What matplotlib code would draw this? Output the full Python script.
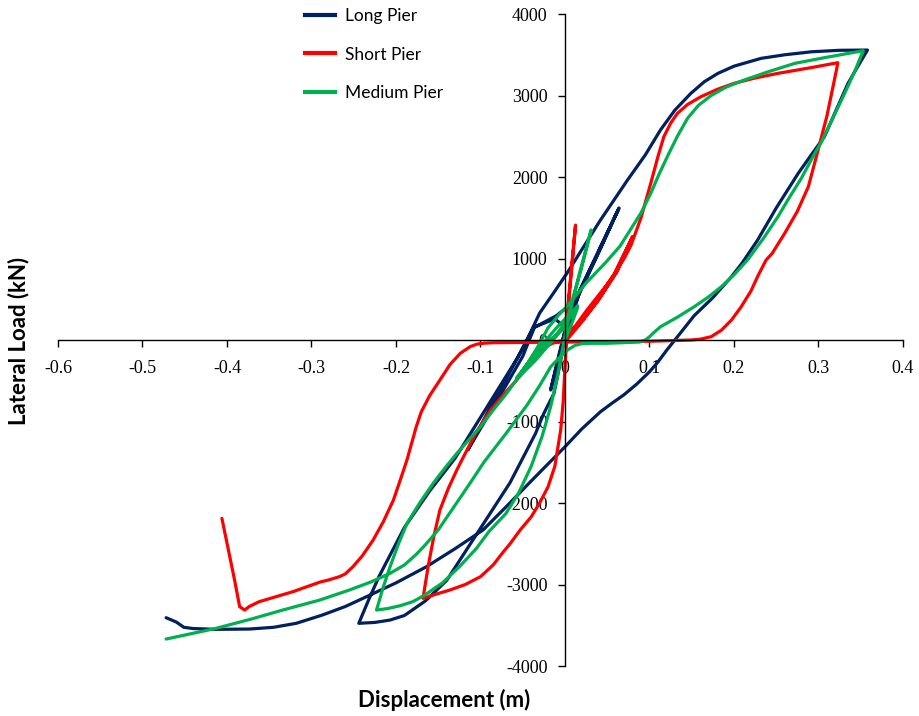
import matplotlib.pyplot as plt
from matplotlib.lines import Line2D

plt.rcParams['axes.unicode_minus'] = False

# Lateral load (kN) vs displacement (m) hysteresis loops
long_x = [0.000, 0.018, 0.042, 0.064, 0.040, 0.016, 0.003, -0.008, -0.017, -0.010,
          0.002, 0.018, 0.042, 0.063, 0.038, 0.012, -0.010, -0.037, -0.045, -0.062,
          -0.087, -0.115, -0.095, -0.070, -0.050, -0.036, -0.012, 0.001, -0.005, -0.013,
          -0.025, -0.035, -0.050, -0.065, -0.090, -0.115, -0.140, -0.165, -0.190, -0.207,
          -0.225, -0.244, -0.232, -0.220, -0.190, -0.160, -0.130, -0.100, -0.070, -0.055,
          -0.045, -0.030, -0.012, 0.003, 0.042, 0.074, 0.095, 0.113, 0.130, 0.149,
          0.165, 0.181, 0.200, 0.232, 0.260, 0.292, 0.325, 0.358, 0.345, 0.335,
          0.320, 0.307, 0.290, 0.276, 0.250, 0.228, 0.210, 0.197, 0.175, 0.153,
          0.130, 0.120, 0.110, 0.100, 0.085, 0.070, 0.055, 0.042, 0.020, 0.000,
          -0.020, -0.040, -0.070, -0.097, -0.130, -0.164, -0.200, -0.235, -0.260, -0.287,
          -0.318, -0.345, -0.373, -0.413, -0.440, -0.451, -0.460, -0.472]
long_y = [0, 613, 1145, 1620, 1090, 580, 245, -250, -613, -300,
          200, 590, 1120, 1600, 1040, 480, 300, 150, 0, -330,
          -800, -1350, -1000, -560, -200, 160, 260, 150, -250, -654,
          -900, -1150, -1450, -1750, -2150, -2550, -2950, -3200, -3380, -3436,
          -3465, -3476, -3180, -2900, -2300, -1850, -1450, -950, -450, -200,
          0, 330, 600, 830, 1472, 1963, 2270, 2577, 2820, 3027,
          3170, 3272, 3360, 3456, 3500, 3537, 3555, 3558, 3330, 3150,
          2800, 2495, 2250, 2045, 1620, 1227, 950, 777, 520, 300,
          0, -130, -270, -390, -540, -670, -780, -880, -1090, -1310,
          -1520, -1730, -2050, -2331, -2560, -2782, -2980, -3150, -3270, -3374,
          -3476, -3525, -3546, -3550, -3540, -3525, -3460, -3407]

short_x = [0.000, 0.006, 0.0125, 0.006, 0.001, 0.015, 0.035, 0.058, 0.080, 0.062,
           0.040, 0.020, 0.000, 0.016, 0.036, 0.059, 0.080, 0.061, 0.039, 0.019,
           0.002, 0.000, -0.002, -0.005, -0.012, -0.020, -0.030, -0.040, -0.053, -0.065,
           -0.073, -0.085, -0.100, -0.118, -0.136, -0.150, -0.168, -0.162, -0.155, -0.148,
           -0.138, -0.128, -0.120, -0.105, -0.088, -0.072, -0.057, -0.043, -0.029, -0.015,
           0.000, 0.026, 0.054, 0.070, 0.078, 0.090, 0.1015, 0.110, 0.117, 0.125,
           0.133, 0.145, 0.161, 0.180, 0.200, 0.225, 0.252, 0.290, 0.323, 0.318,
           0.310, 0.300, 0.288, 0.275, 0.260, 0.245, 0.238, 0.228, 0.220, 0.208,
           0.197, 0.185, 0.173, 0.160, 0.149, 0.100, 0.050, 0.000, -0.050, -0.085,
           -0.095, -0.104, -0.112, -0.124, -0.136, -0.148, -0.160, -0.170, -0.176, -0.187,
           -0.195, -0.203, -0.215, -0.227, -0.240, -0.251, -0.260, -0.267, -0.280, -0.290,
           -0.322, -0.362, -0.374, -0.379, -0.385, -0.391, -0.406]
short_y = [0, 700, 1410, 650, 100, 180, 450, 800, 1268, 850,
           500, 230, 20, 200, 470, 820, 1268, 830, 480, 210,
           0, -330, -740, -1100, -1550, -1800, -2000, -2170, -2331, -2500,
           -2600, -2760, -2904, -3000, -3067, -3110, -3170, -2782, -2400, -2086,
           -1820, -1595, -1431, -1130, -859, -660, -491, -300, -123, -40,
           0, 368, 736, 1000, 1160, 1500, 1923, 2250, 2495, 2660,
           2781, 2890, 2986, 3075, 3149, 3215, 3272, 3340, 3403, 3150,
           2750, 2350, 1881, 1580, 1309, 1060, 982, 780, 600, 400,
           245, 120, 41, 10, 0, -15, -20, -25, -30, -33,
           -38, -50, -80, -164, -300, -491, -680, -880, -1064, -1472,
           -1720, -1963, -2230, -2454, -2650, -2782, -2870, -2904, -2945, -2970,
           -3088, -3211, -3272, -3313, -3272, -2945, -2188]

medium_x = [0.000, 0.008, 0.015, -0.010, -0.035, -0.057, -0.035, -0.010, 0.015, -0.015,
            -0.057, -0.030, 0.000, 0.008, 0.018, 0.031, 0.020, 0.008, 0.000, -0.009,
            -0.017, -0.027, -0.040, -0.055, -0.070, -0.090, -0.105, -0.125, -0.145, -0.166,
            -0.180, -0.195, -0.210, -0.223, -0.215, -0.207, -0.197, -0.187, -0.172, -0.156,
            -0.142, -0.128, -0.100, -0.085, -0.069, -0.057, -0.045, -0.032, -0.020, -0.008,
            0.003, 0.025, 0.048, 0.065, 0.076, 0.090, 0.1015, 0.112, 0.123, 0.133,
            0.145, 0.158, 0.173, 0.190, 0.212, 0.240, 0.272, 0.310, 0.353, 0.343,
            0.331, 0.316, 0.303, 0.295, 0.280, 0.265, 0.252, 0.235, 0.216, 0.200,
            0.185, 0.170, 0.153, 0.133, 0.113, 0.105, 0.100, 0.095, 0.088, 0.050,
            0.030, 0.020, 0.012, 0.003, -0.007, -0.017, -0.030, -0.045, -0.070, -0.096,
            -0.110, -0.125, -0.150, -0.165, -0.176, -0.190, -0.207, -0.230, -0.255, -0.290,
            -0.334, -0.370, -0.413, -0.472]
medium_y = [0, 200, 400, 50, -250, -480, -150, 150, 420, 0,
            -460, -100, 150, 450, 850, 1350, 900, 450, 50, -450,
            -820, -1180, -1550, -1880, -2130, -2350, -2560, -2782, -2980, -3130,
            -3210, -3260, -3295, -3313, -3030, -2782, -2500, -2250, -2000, -1758,
            -1570, -1391, -1064, -860, -654, -480, -300, -80, 150, 300,
            420, 700, 950, 1150, 1330, 1560, 1800, 2050, 2290, 2500,
            2720, 2880, 3000, 3100, 3190, 3290, 3395, 3470, 3550, 3300,
            3027, 2700, 2420, 2280, 1990, 1740, 1513, 1250, 982, 800,
            654, 530, 409, 280, 163, 90, 40, 0, -25, -40,
            -40, -45, -65, -123, -220, -330, -560, -800, -1150, -1500,
            -1720, -1950, -2330, -2510, -2630, -2760, -2863, -2970, -3067, -3190,
            -3313, -3420, -3538, -3669]

series = [('Long Pier', long_x, long_y, '#002060'),
          ('Short Pier', short_x, short_y, '#FF0000'),
          ('Medium Pier', medium_x, medium_y, '#00B050')]

fig = plt.figure(figsize=(9.2, 7.16), dpi=100)
ax = fig.add_axes([0.063, 0.0698, 0.9185, 0.9106])

for name, xs, ys, color in series:
    ax.plot(xs, ys, color=color, lw=2.3, label=name,
            solid_joinstyle='round', solid_capstyle='round')

ax.set_xlim(-0.6, 0.4)
ax.set_ylim(-4000, 4000)
ax.set_xticks([-0.6, -0.5, -0.4, -0.3, -0.2, -0.1, 0, 0.1, 0.2, 0.3, 0.4])
ax.set_xticklabels(['-0.6', '-0.5', '-0.4', '-0.3', '-0.2', '-0.1', '0', '0.1', '0.2', '0.3', '0.4'])
ax.set_yticks(range(-4000, 4001, 1000))

# axes cross at the origin
ax.spines['left'].set_position(('data', 0))
ax.spines['bottom'].set_position(('data', 0))
ax.spines['top'].set_visible(False)
ax.spines['right'].set_visible(False)
for s in ('left', 'bottom'):
    ax.spines[s].set_linewidth(1.0)

ax.tick_params(axis='both', direction='out', length=5, width=1.0,
               labelsize=13)
ax.tick_params(axis='y', pad=7.5)
ax.tick_params(axis='x', pad=9.5)
for lbl in ax.get_xticklabels() + ax.get_yticklabels():
    lbl.set_family('Liberation Serif')

fig.text(0.020, 0.524, 'Lateral Load (kN)', rotation=90, ha='center', va='center',
         fontsize=16, fontweight='bold', family='Lato')
fig.text(0.483, 0.022, 'Displacement (m)', ha='center', va='center',
         fontsize=16, fontweight='bold', family='Lato')

handles = [Line2D([], [], color=c, lw=3) for _, _, _, c in series]
ax.legend(handles, [n for n, _, _, _ in series], loc='upper left',
          bbox_to_anchor=(305 / 920, 1 - 8 / 716), bbox_transform=fig.transFigure,
          frameon=False, handlelength=1.72, handletextpad=0.57,
          labelspacing=1.3, borderpad=0, borderaxespad=0,
          prop={'family': 'Lato', 'size': 12.5})

fig.savefig('out.png', dpi=100)
